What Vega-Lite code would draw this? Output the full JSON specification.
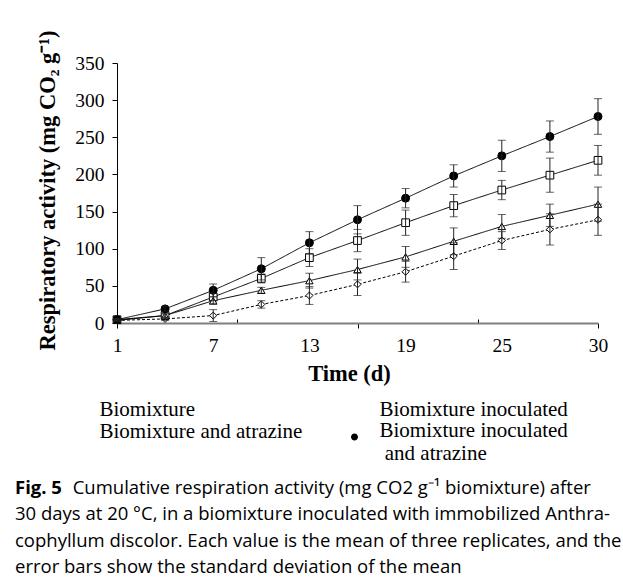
{
  "$schema": "https://vega.github.io/schema/vega-lite/v6.json",
  "width": 481,
  "height": 260,
  "autosize": "none",
  "padding": {"left": 117, "top": 63, "right": 25, "bottom": 263},
  "background": "white",
  "config": {"view": {"stroke": null}, "font": "Liberation Serif"},
  "title": {
    "text": "Fig. 5",
    "subtitle": [
      "\u200b\u00a0\u00a0\u00a0\u00a0\u00a0\u00a0\u00a0\u00a0\u00a0\u00a0\u00a0\u00a0Cumulative respiration activity (mg CO2 g\u207b\u00b9 biomixture) after",
      "30 days at 20 °C, in a biomixture inoculated with immobilized Anthra-",
      "cophyllum discolor. Each value is the mean of three replicates, and the",
      "error bars show the standard deviation of the mean"
    ],
    "orient": "bottom",
    "anchor": "start",
    "frame": "group",
    "dx": -102,
    "offset": 15,
    "font": "Open Sans",
    "fontWeight": "bold",
    "fontSize": 18.5,
    "color": "black",
    "subtitleFont": "Open Sans",
    "subtitleFontSize": 18.5,
    "subtitleColor": "black",
    "subtitleLineHeight": 26.3,
    "subtitlePadding": -18.5
  },
  "data": {
    "values": [
      {"series": "Biomixture", "day": 1, "v": 3.5, "sd": 1},
      {"series": "Biomixture", "day": 4, "v": 5.5, "sd": 2},
      {"series": "Biomixture", "day": 7, "v": 10, "sd": 8},
      {"series": "Biomixture", "day": 10, "v": 25, "sd": 5},
      {"series": "Biomixture", "day": 13, "v": 37, "sd": 12},
      {"series": "Biomixture", "day": 16, "v": 52, "sd": 15},
      {"series": "Biomixture", "day": 19, "v": 69, "sd": 14},
      {"series": "Biomixture", "day": 22, "v": 90, "sd": 18},
      {"series": "Biomixture", "day": 25, "v": 111, "sd": 12},
      {"series": "Biomixture", "day": 28, "v": 126, "sd": 21},
      {"series": "Biomixture", "day": 30, "v": 139, "sd": 21},
      {"series": "Biomixture inoculated", "day": 1, "v": 4.5, "sd": 1.5},
      {"series": "Biomixture inoculated", "day": 4, "v": 10, "sd": 3},
      {"series": "Biomixture inoculated", "day": 7, "v": 35, "sd": 5},
      {"series": "Biomixture inoculated", "day": 10, "v": 60, "sd": 6},
      {"series": "Biomixture inoculated", "day": 13, "v": 88, "sd": 12},
      {"series": "Biomixture inoculated", "day": 16, "v": 111, "sd": 15},
      {"series": "Biomixture inoculated", "day": 19, "v": 135, "sd": 17},
      {"series": "Biomixture inoculated", "day": 22, "v": 158, "sd": 15},
      {"series": "Biomixture inoculated", "day": 25, "v": 179, "sd": 13},
      {"series": "Biomixture inoculated", "day": 28, "v": 199, "sd": 23},
      {"series": "Biomixture inoculated", "day": 30, "v": 219, "sd": 20},
      {"series": "Biomixture and atrazine", "day": 1, "v": 3.5, "sd": 1},
      {"series": "Biomixture and atrazine", "day": 4, "v": 10, "sd": 2},
      {"series": "Biomixture and atrazine", "day": 7, "v": 30, "sd": 5},
      {"series": "Biomixture and atrazine", "day": 10, "v": 44, "sd": 4},
      {"series": "Biomixture and atrazine", "day": 13, "v": 57, "sd": 10},
      {"series": "Biomixture and atrazine", "day": 16, "v": 72, "sd": 14},
      {"series": "Biomixture and atrazine", "day": 19, "v": 89, "sd": 14},
      {"series": "Biomixture and atrazine", "day": 22, "v": 110, "sd": 18},
      {"series": "Biomixture and atrazine", "day": 25, "v": 130, "sd": 16},
      {"series": "Biomixture and atrazine", "day": 28, "v": 145, "sd": 15},
      {"series": "Biomixture and atrazine", "day": 30, "v": 160, "sd": 23},
      {"series": "Biomixture inoculated and atrazine", "day": 1, "v": 4.5, "sd": 1.5},
      {"series": "Biomixture inoculated and atrazine", "day": 4, "v": 19, "sd": 3},
      {"series": "Biomixture inoculated and atrazine", "day": 7, "v": 44, "sd": 8.5},
      {"series": "Biomixture inoculated and atrazine", "day": 10, "v": 73, "sd": 15},
      {"series": "Biomixture inoculated and atrazine", "day": 13, "v": 108, "sd": 15},
      {"series": "Biomixture inoculated and atrazine", "day": 16, "v": 139, "sd": 19},
      {"series": "Biomixture inoculated and atrazine", "day": 19, "v": 168, "sd": 13},
      {"series": "Biomixture inoculated and atrazine", "day": 22, "v": 198, "sd": 15},
      {"series": "Biomixture inoculated and atrazine", "day": 25, "v": 225, "sd": 21},
      {"series": "Biomixture inoculated and atrazine", "day": 28, "v": 251, "sd": 21},
      {"series": "Biomixture inoculated and atrazine", "day": 30, "v": 278, "sd": 24}
    ]
  },
  "encoding": {
    "x": {
      "field": "day",
      "type": "quantitative",
      "scale": {"domain": [1, 28, 30], "range": [0, 432.9, 481], "nice": false, "zero": false},
      "axis": {
        "title": "Time (d)",
        "titleFont": "Liberation Serif",
        "titleFontSize": 22.5,
        "titleFontWeight": "bold",
        "titleColor": "black",
        "titleX": 232,
        "titleY": 50,
        "titleBaseline": "middle",
        "titleAlign": "center",
        "values": [1, 7, 8.5, 13, 16, 19, 23.5, 25, 30],
        "labelExpr": "indexof([1,7,13,19,25,30], datum.value) >= 0 ? datum.value : ''",
        "labelFont": "Liberation Serif",
        "labelFontSize": 19.5,
        "labelColor": "black",
        "labelOverlap": false,
        "labelFlush": false,
        "labelPadding": 8,
        "tickSize": {"condition": {"test": "datum.value == 8.5 || datum.value == 23.5", "value": -4}, "value": 5},
        "tickOpacity": {"condition": {"test": "indexof([1,8.5,16,23.5,30], datum.value) >= 0", "value": 1}, "value": 0},
        "tickColor": "black",
        "domainColor": "#808080",
        "domainWidth": 2,
        "grid": false
      }
    },
    "y": {
      "field": "v",
      "type": "quantitative",
      "scale": {"domain": [0, 350], "nice": false},
      "axis": {
        "title": "Respiratory activity (mg CO\u2082 g\u207b\u00b9)",
        "titleFont": "Liberation Serif",
        "titleFontSize": 22.5,
        "titleFontWeight": "bold",
        "titleColor": "black",
        "titleX": -70,
        "titleY": 127,
        "titleAngle": -90,
        "titleBaseline": "middle",
        "titleAlign": "center",
        "values": [0, 50, 100, 150, 200, 250, 300, 350],
        "labelFont": "Liberation Serif",
        "labelFontSize": 19.5,
        "labelColor": "black",
        "labelPadding": 8,
        "tickSize": 5,
        "tickColor": "black",
        "domainColor": "black",
        "grid": false
      }
    }
  },
  "resolve": {"scale": {"shape": "independent", "fill": "independent"}},
  "layer": [
    {
      "mark": {"type": "line", "color": "black", "strokeWidth": 1},
      "encoding": {
        "detail": {"field": "series"},
        "strokeDash": {
          "field": "series",
          "scale": {"range": [[3, 2], [1, 0], [1, 0], [1, 0]]},
          "legend": null
        }
      }
    },
    {
      "mark": {"type": "point", "filled": false, "stroke": "black", "strokeWidth": 1, "opacity": 1},
      "encoding": {
        "shape": {
          "field": "series",
          "scale": {"range": ["diamond", "triangle-up", "square", "circle"]},
          "legend": null
        },
        "fill": {
          "field": "series",
          "scale": {"range": ["white", "white", "white", "black"]},
          "legend": null
        },
        "size": {
          "field": "series",
          "scale": {"range": [50, 64, 64, 81]},
          "legend": null
        }
      }
    },
    {
      "mark": {"type": "errorbar", "ticks": {"size": 8, "thickness": 1, "color": "#222"}, "rule": {"color": "#222", "strokeWidth": 1}},
      "encoding": {
        "y": {"field": "v", "type": "quantitative"},
        "yError": {"field": "sd"},
        "detail": {"field": "series"}
      }
    },
    {
      "transform": [{"filter": "datum.day > 1000"}],
      "mark": {"type": "point", "filled": true, "stroke": "black", "strokeWidth": 1.1, "opacity": 1},
      "encoding": {
        "fill": {
          "field": "series",
          "scale": {
            "domain": ["Biomixture", "Biomixture and atrazine", "Biomixture inoculated", "Biomixture inoculated and atrazine"],
            "range": ["white", "white", "white", "black"]
          },
          "legend": {}
        },
        "shape": {
          "field": "series",
          "scale": {
            "domain": ["Biomixture", "Biomixture and atrazine", "Biomixture inoculated", "Biomixture inoculated and atrazine"],
            "range": [
              "M-2.15,0h0.2M-1.85,0h0.2M-1.55,0h0.2M-1.25,0h0.2M-0.95,0h0.2M-0.65,0h0.2M0.45,0h0.2M0.75,0h0.2M1.05,0h0.2M1.35,0h0.2M1.65,0h0.2M1.95,0h0.2M0,-0.3L0.3,0L0,0.3L-0.3,0Z",
              "M-2.15,0H-0.2M0.2,0H2.15M0,-0.35L0.33,0.22H-0.33Z",
              "M-2.15,0H-0.3M0.3,0H2.15M-0.3,-0.3H0.3V0.3H-0.3Z",
              "M-2.15,0H2.15M-0.35,0A0.35,0.35,0,1,0,0.35,0A0.35,0.35,0,1,0,-0.35,0Z"
            ]
          },
          "legend": {
            "title": null,
            "orient": "none",
            "legendX": -65,
            "legendY": 342,
            "columns": 2,
            "columnPadding": 27,
            "rowPadding": -2,
            "symbolSize": 400,
            "symbolOffset": 11.5,
            "symbolOpacity": 1,
            "symbolStrokeColor": "black",
            "symbolStrokeWidth": 1.1,
            "labelOffset": 14,
            "labelFont": "Liberation Serif",
            "labelFontSize": 21,
            "labelColor": "black",
            "labelLimit": 400,
            "labelBaseline": "alphabetic",
            "labelExpr": "datum.label == 'Biomixture inoculated and atrazine' ? ['Biomixture inoculated', '\u200b\u00a0and atrazine'] : datum.label",
            "encode": {
              "symbols": {
                "stroke": {"value": "black"},
                "strokeWidth": {"value": 1.1}
              },
              "labels": {
                "dy": {"value": 8},
                "lineHeight": {"value": 25}
              }
            }
          }
        }
      }
    }
  ]
}
